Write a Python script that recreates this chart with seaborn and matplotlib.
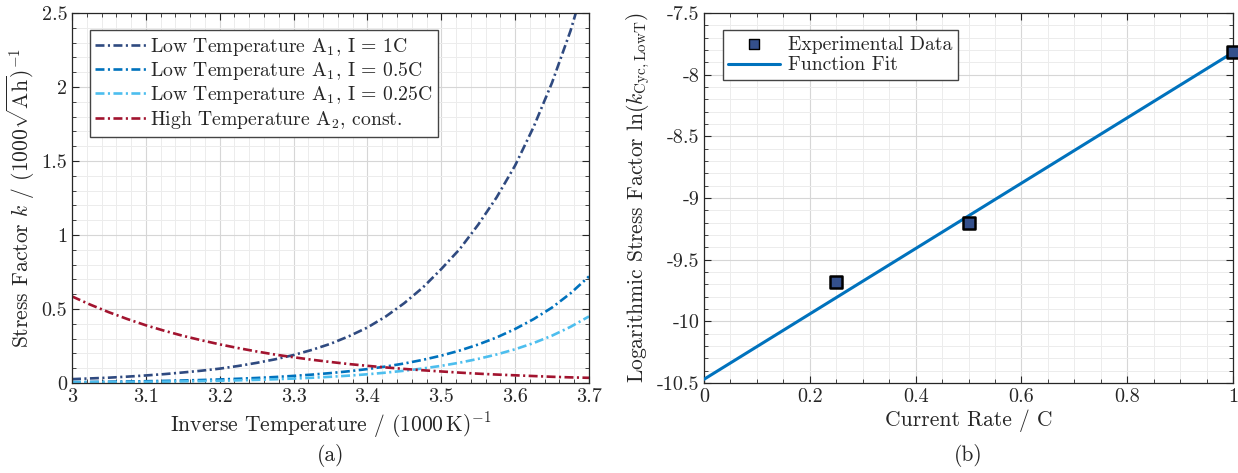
import numpy as np
import pandas as pd
import matplotlib
matplotlib.use("Agg")
import matplotlib.pyplot as plt
from matplotlib.ticker import MultipleLocator, FixedLocator
import seaborn as sns

# ---- data -------------------------------------------------------------
inv_temp = [3.000, 3.025, 3.050, 3.075, 3.100, 3.125, 3.150, 3.175,
            3.200, 3.225, 3.250, 3.275, 3.300, 3.325, 3.350, 3.375,
            3.400, 3.425, 3.450, 3.475, 3.500, 3.525, 3.550, 3.575,
            3.600, 3.625, 3.650, 3.675, 3.700]
k_low_1c = [0.026, 0.031, 0.036, 0.043, 0.051, 0.060, 0.071, 0.083,
            0.097, 0.115, 0.136, 0.160, 0.189, 0.224, 0.265, 0.316,
            0.375, 0.450, 0.540, 0.645, 0.770, 0.905, 1.070, 1.255,
            1.470, 1.730, 2.030, 2.380, 2.800]
k_low_05c = [0.0062, 0.0073, 0.0087, 0.0102, 0.0120, 0.0143, 0.0170, 0.0202,
             0.0240, 0.0286, 0.0340, 0.0404, 0.0480, 0.0567, 0.0670, 0.0794,
             0.0940, 0.1114, 0.1320, 0.1563, 0.1850, 0.2193, 0.2600, 0.3080,
             0.3650, 0.4315, 0.5100, 0.6060, 0.7200]
k_low_025c = [0.0039, 0.0046, 0.0055, 0.0065, 0.0077, 0.0091, 0.0108, 0.0128,
              0.0152, 0.0180, 0.0213, 0.0253, 0.0300, 0.0355, 0.0420, 0.0498,
              0.0590, 0.0700, 0.0830, 0.0981, 0.1160, 0.1375, 0.1630, 0.1928,
              0.2280, 0.2700, 0.3200, 0.3795, 0.4500]
k_high = [0.585, 0.529, 0.478, 0.432, 0.390, 0.353, 0.319, 0.289,
          0.261, 0.236, 0.213, 0.192, 0.174, 0.157, 0.142, 0.128,
          0.116, 0.105, 0.095, 0.086, 0.078, 0.070, 0.063, 0.057,
          0.052, 0.047, 0.042, 0.038, 0.035]

series_labels = [r"Low Temperature A$_1$, I = 1C",
                 r"Low Temperature A$_1$, I = 0.5C",
                 r"Low Temperature A$_1$, I = 0.25C",
                 r"High Temperature A$_2$, const."]

current_rate = [0.25, 0.5, 1.0]
ln_k_measured = [-9.68, -9.20, -7.82]
fit_rate = [0.0, 1.0]
fit_ln_k = [-10.47, -7.82]

xticks_a = [3.0, 3.1, 3.2, 3.3, 3.4, 3.5, 3.6, 3.7]
xticklabels_a = ["3", "3.1", "3.2", "3.3", "3.4", "3.5", "3.6", "3.7"]
yticks_a = [0, 0.5, 1, 1.5, 2, 2.5]
yticklabels_a = ["0", "0.5", "1", "1.5", "2", "2.5"]
xticks_b = [0, 0.2, 0.4, 0.6, 0.8, 1.0]
xticklabels_b = ["0", "0.2", "0.4", "0.6", "0.8", "1"]
yticks_b = [-10.5, -10, -9.5, -9, -8.5, -8, -7.5]
yticklabels_b = ["-10.5", "-10", "-9.5", "-9", "-8.5", "-8", "-7.5"]

# ---- style ------------------------------------------------------------
sns.set_theme(style="white")
plt.rcParams.update({
    "font.family": "serif",
    "font.serif": ["cmr10", "DejaVu Serif"],
    "mathtext.fontset": "cm",
    "axes.unicode_minus": False,
    "axes.formatter.use_mathtext": True,
})

colors = ["#2f4a80", "#0072bd", "#4dbeee", "#a2142f"]
dashdot = (3.4, 1.3, 0.8, 1.3)
label_fs = 15.5
tick_fs = 14.5
legend_fs = 14.2

fig = plt.figure(figsize=(12.38, 4.73), dpi=100)
ax_a = fig.add_axes([72 / 1238, 1 - 383 / 473, 517 / 1238, 370 / 473])
ax_b = fig.add_axes([704 / 1238, 1 - 383 / 473, 529 / 1238, 370 / 473])

# ---- panel (a): stress factors vs inverse temperature ----------------
curves = pd.DataFrame({
    "x": inv_temp * 4,
    "k": k_low_1c + k_low_05c + k_low_025c + k_high,
    "series": sum([[lab] * len(inv_temp) for lab in series_labels], []),
})
sns.lineplot(data=curves, x="x", y="k", hue="series", hue_order=series_labels,
             palette=colors, style="series", dashes=[dashdot] * 4,
             linewidth=1.9, ax=ax_a, legend=True)

ax_a.set_xlim(3.0, 3.7)
ax_a.set_ylim(0, 2.5)
ax_a.xaxis.set_major_locator(FixedLocator(xticks_a))
ax_a.set_xticklabels(xticklabels_a)
ax_a.yaxis.set_major_locator(FixedLocator(yticks_a))
ax_a.set_yticklabels(yticklabels_a)
ax_a.xaxis.set_minor_locator(MultipleLocator(0.02))
ax_a.yaxis.set_minor_locator(MultipleLocator(0.1))
ax_a.set_xlabel(r"Inverse Temperature / $(1000\,\mathrm{K})^{-1}$", fontsize=label_fs, labelpad=3)
ax_a.set_ylabel(r"Stress Factor $k$ / $(1000\sqrt{\mathrm{Ah}})^{-1}$", fontsize=label_fs, labelpad=3)

leg_a = ax_a.legend(loc="upper left", bbox_to_anchor=(0.034, 0.955), fontsize=legend_fs,
                    handlelength=2.6, handletextpad=0.15, borderpad=0.3,
                    labelspacing=0.12, borderaxespad=0, fancybox=False,
                    framealpha=1, edgecolor="#444444")
leg_a.get_frame().set_linewidth(1.0)

# ---- panel (b): log stress factor vs current rate ---------------------
sns.lineplot(x=fit_rate, y=fit_ln_k, color="#0072bd", linewidth=2.2, ax=ax_b,
             label="Function Fit", zorder=3)
sns.scatterplot(x=current_rate, y=ln_k_measured, marker="s", s=80,
                color="#34508c", edgecolor="black", linewidth=1.8, ax=ax_b,
                label="Experimental Data", zorder=4, clip_on=False)

ax_b.set_xlim(0, 1)
ax_b.set_ylim(-10.5, -7.5)
ax_b.xaxis.set_major_locator(FixedLocator(xticks_b))
ax_b.set_xticklabels(xticklabels_b)
ax_b.yaxis.set_major_locator(FixedLocator(yticks_b))
ax_b.set_yticklabels(yticklabels_b)
ax_b.xaxis.set_minor_locator(MultipleLocator(0.05))
ax_b.yaxis.set_minor_locator(MultipleLocator(0.1))
ax_b.set_xlabel("Current Rate / C", fontsize=label_fs, labelpad=3)
ax_b.set_ylabel(r"Logarithmic Stress Factor $\ln(k_{\mathrm{Cyc,LowT}})$", fontsize=label_fs, labelpad=3)

handles, labels = ax_b.get_legend_handles_labels()
order = [labels.index("Experimental Data"), labels.index("Function Fit")]
leg_b = ax_b.legend([handles[i] for i in order], [labels[i] for i in order],
                    loc="upper left", bbox_to_anchor=(0.035, 0.955), fontsize=legend_fs,
                    handlelength=2.6, handletextpad=0.4, borderpad=0.3,
                    labelspacing=0.15, borderaxespad=0, fancybox=False,
                    framealpha=1, edgecolor="#444444", markerscale=0.75)
leg_b.get_frame().set_linewidth(1.0)
for h in leg_b.legend_handles:
    if hasattr(h, "set_linewidth") and h.get_label() == "Experimental Data":
        h.set_linewidth(1.0)

# ---- shared axis cosmetics --------------------------------------------
for ax in (ax_a, ax_b):
    ax.grid(which="major", color="#d6d6d6", linewidth=0.8)
    ax.grid(which="minor", color="#ececec", linewidth=0.7)
    ax.set_axisbelow(True)
    ax.tick_params(which="both", direction="in", top=True, right=True,
                   bottom=True, left=True, colors="#262626", labelsize=tick_fs)
    ax.tick_params(which="major", length=5, width=0.8)
    ax.tick_params(which="minor", length=3, width=0.6)
    for sp in ax.spines.values():
        sp.set_color("#262626")
        sp.set_linewidth(0.9)

fig.text(331 / 1238, 1 - 455 / 473, "(a)", ha="center", va="center", fontsize=label_fs)
fig.text(968 / 1238, 1 - 455 / 473, "(b)", ha="center", va="center", fontsize=label_fs)

fig.savefig("out.png", dpi=100)
